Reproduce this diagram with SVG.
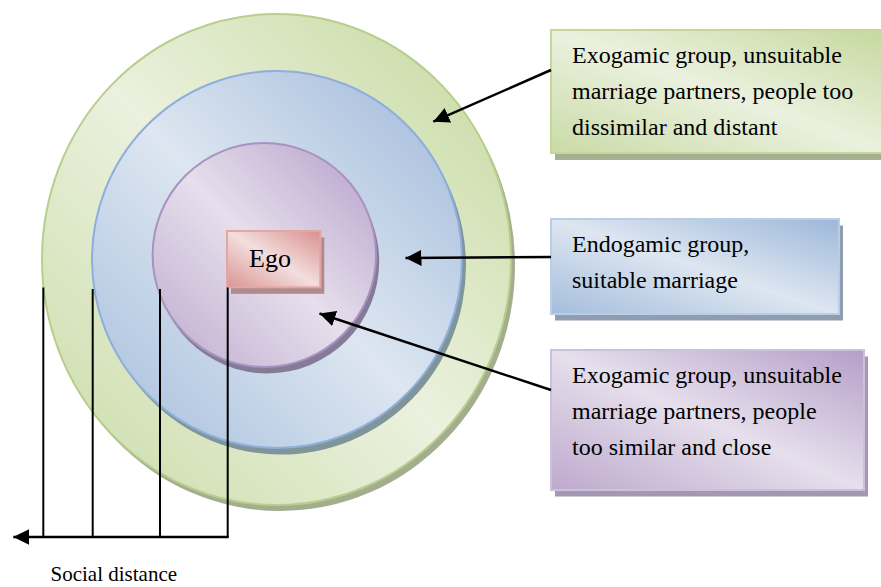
<svg xmlns="http://www.w3.org/2000/svg" width="881" height="587" viewBox="0 0 881 587">
  <style>
    text { font-family: "Liberation Serif", "Times New Roman", serif; fill: #000; }
    .conn { stroke: #000; stroke-width: 2.5; fill: none; }
    .tick { stroke: #000; stroke-width: 2; fill: none; }
  </style>
  <defs>
    <!-- reflected diagonal gradients: dark at top-right and bottom-left, light band through the middle -->
    <linearGradient id="gGreen" x1="1" y1="0" x2="0" y2="1">
      <stop offset="0" stop-color="#c4d89c"/>
      <stop offset="0.5" stop-color="#ebf1de"/>
      <stop offset="1" stop-color="#c9dba6"/>
    </linearGradient>
    <linearGradient id="gBlue" x1="1" y1="0" x2="0" y2="1">
      <stop offset="0" stop-color="#9db7d9"/>
      <stop offset="0.5" stop-color="#dde6f1"/>
      <stop offset="1" stop-color="#a4bddc"/>
    </linearGradient>
    <linearGradient id="gPurple" x1="1" y1="0" x2="0" y2="1">
      <stop offset="0" stop-color="#b49ec8"/>
      <stop offset="0.5" stop-color="#e6dfec"/>
      <stop offset="1" stop-color="#bda9cd"/>
    </linearGradient>
    <linearGradient id="gPink" x1="1" y1="0" x2="0" y2="1">
      <stop offset="0" stop-color="#d98f8e"/>
      <stop offset="0.5" stop-color="#f3dede"/>
      <stop offset="1" stop-color="#da9493"/>
    </linearGradient>
    <marker id="arrow" markerUnits="userSpaceOnUse" markerWidth="17" markerHeight="16" refX="16" refY="8" orient="auto">
      <path d="M0,0 L16,8 L0,16 Z" fill="#000"/>
    </marker>
  </defs>

  <!-- concentric social circles -->
  <g id="outer-circle">
    <ellipse cx="280.5" cy="265.5" rx="234.5" ry="245.5" fill="#a3ae8f"/>
    <ellipse cx="276.5" cy="259.5" rx="234.5" ry="245.5" fill="url(#gGreen)" stroke="#b8ce8d" stroke-width="2"/>
  </g>
  <g id="middle-circle">
    <ellipse cx="281" cy="266" rx="185" ry="188.5" fill="#7f959a"/>
    <ellipse cx="277" cy="259.5" rx="185" ry="188.5" fill="url(#gBlue)" stroke="#8eaedb" stroke-width="2"/>
  </g>
  <g id="inner-circle">
    <ellipse cx="267.5" cy="261.5" rx="111.7" ry="112" fill="#857b98"/>
    <ellipse cx="264.3" cy="255" rx="111.7" ry="112" fill="url(#gPurple)" stroke="#a893c0" stroke-width="2"/>
  </g>

  <g id="ego">
    <rect x="231" y="237.5" width="93.3" height="56.3" fill="#b08a8c"/>
    <rect x="227" y="231" width="93.3" height="56.3" fill="url(#gPink)" stroke="#e3a6a5" stroke-width="2"/>
    <text x="249" y="267" style="font-family:'Liberation Serif','Times New Roman',serif;font-size:26px">Ego</text>
  </g>

  <!-- description boxes -->
  <g id="box-exogamic-distant" style="font-family:'Liberation Serif','Times New Roman',serif;font-size:24px">
    <rect x="555" y="37" width="340" height="123" fill="#a5b091"/>
    <rect x="551" y="30" width="340" height="123" fill="url(#gGreen)" stroke="#c3d69b" stroke-width="2"/>
    <text x="572" y="63">Exogamic group, unsuitable</text>
    <text x="572" y="99">marriage partners, people too</text>
    <text x="572" y="135">dissimilar and distant</text>
  </g>
  <g id="box-endogamic" style="font-family:'Liberation Serif','Times New Roman',serif;font-size:24px">
    <rect x="555" y="225.5" width="288" height="95" fill="#8e9db1"/>
    <rect x="551" y="219" width="288" height="95" fill="url(#gBlue)" stroke="#b9cde5" stroke-width="2"/>
    <text x="572" y="252">Endogamic group,</text>
    <text x="572" y="288">suitable marriage</text>
  </g>
  <g id="box-exogamic-close" style="font-family:'Liberation Serif','Times New Roman',serif;font-size:24px">
    <rect x="555" y="356.5" width="313" height="140" fill="#a497b1"/>
    <rect x="551" y="350" width="313" height="140" fill="url(#gPurple)" stroke="#ccc0da" stroke-width="2"/>
    <text x="572" y="383">Exogamic group, unsuitable</text>
    <text x="572" y="419">marriage partners, people</text>
    <text x="572" y="455">too similar and close</text>
  </g>

  <!-- connectors -->
  <g id="connectors">
    <line class="conn" x1="551" y1="70" x2="433.3" y2="121.7" marker-end="url(#arrow)"/>
    <line class="conn" x1="551" y1="257" x2="405.5" y2="258" marker-end="url(#arrow)"/>
    <line class="conn" x1="551" y1="390" x2="319.5" y2="313.5" marker-end="url(#arrow)"/>

    <line class="tick" x1="43.3" y1="287.5" x2="43.3" y2="537"/>
    <line class="tick" x1="92.7" y1="289" x2="92.7" y2="537"/>
    <line class="tick" x1="160" y1="289" x2="160" y2="537"/>
    <line class="tick" x1="227.7" y1="287.5" x2="227.7" y2="537"/>
    <line class="conn" x1="228.7" y1="537" x2="13.3" y2="537" marker-end="url(#arrow)"/>
  </g>

  <text x="50.5" y="581" style="font-family:'Liberation Serif','Times New Roman',serif;font-size:21px">Social distance</text>
</svg>
